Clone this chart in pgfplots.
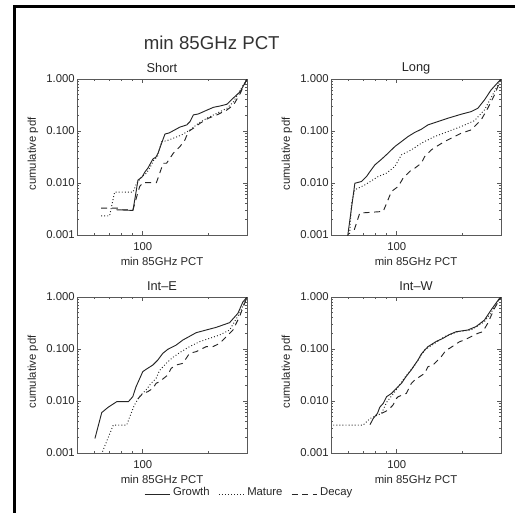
\documentclass[border=0pt]{standalone}
\usepackage{fontspec}
\setmainfont{Liberation Sans}
\usepackage{pgfplots}
\pgfplotsset{compat=1.18}

\tikzset{
  growth/.style={black!85, line width=0.7pt},
  mature/.style={black!85, line width=0.7pt, dash pattern=on 0.7pt off 1.6pt},
  decay/.style={black!85, line width=0.7pt, dash pattern=on 4.5pt off 3.5pt},
}
\pgfplotsset{
  cdfpanel/.style={
    scale only axis, width=127.5pt, height=117pt,
    xmin=50, xmax=300, ymin=0.001, ymax=1,
    xtick={100}, xticklabels={100},
    minor xtick={60,70,80,90,200},
    ytick={0.001,0.01,0.1,1},
    yticklabels={0.001,0.010,0.100,1.000},
    minor ytick={0.002,0.003,0.004,0.005,0.006,0.007,0.008,0.009,
                 0.02,0.03,0.04,0.05,0.06,0.07,0.08,0.09,
                 0.2,0.3,0.4,0.5,0.6,0.7,0.8,0.9},
    major tick length=3pt, minor tick length=1.5pt,
    axis line style={black!65, line width=0.75pt},
    tick style={black!65, line width=0.6pt},
    tick label style={font=\fontsize{8.5}{10}\selectfont, text=black!85},
    yticklabel style={inner sep=1.5pt},
    xticklabel style={yshift=-2pt},
    label style={font=\fontsize{8.5}{10}\selectfont, text=black!85},
    xlabel={min 85GHz PCT}, ylabel={cumulative pdf},
    xlabel style={at={(axis description cs:0.5,-0.17)}, anchor=center},
    ylabel style={at={(axis description cs:-0.259,0.52)}, anchor=center},
    every axis title shift=0pt,
    title style={at={(axis description cs:0.5,1.07)}, anchor=center,
                 font=\fontsize{9.6}{11}\selectfont, text=black!85},
  },
}

\begin{document}
\begin{tikzpicture}
\useasboundingbox (0pt,0pt) rectangle (386.25pt,-384pt);
\draw[line width=2.25pt, black] (10.7pt,-392pt) -- (10.7pt,-5pt) -- (392pt,-5pt);
\node[font=\fontsize{14}{16}\selectfont, text=black!80] at (158.8pt,-32.25pt) {min 85GHz PCT};

% Short
\begin{axis}[xmode=log, ymode=log, cdfpanel, anchor=north west,
  at={(57.75pt,-59.25pt)}, title={Short}]
\addplot[growth] coordinates {(75.7,0.00306) (90.2,0.00297) (95.1,0.0114) (99.2,0.013) (102.3,0.0163) (105.6,0.0194) (111.3,0.029) (115,0.0316) (117.5,0.0378) (122.5,0.0614) (126.4,0.0875) (131.9,0.0916) (148,0.119) (159,0.131) (164.6,0.152) (170.5,0.204) (179.8,0.213) (192.8,0.243) (210.8,0.286) (226,0.303) (242.7,0.327) (255.9,0.407) (279.4,0.571) (300,1)};
\addplot[mature] coordinates {(64.5,0.00234) (70.5,0.00234) (74.3,0.00668) (90.2,0.00668) (93.8,0.0099) (98.6,0.013) (104,0.0155) (108,0.02) (112,0.027) (117,0.033) (121.9,0.0627) (128.5,0.065) (138,0.0726) (150.7,0.0842) (164.6,0.105) (179.8,0.141) (196.3,0.176) (218.4,0.219) (242.7,0.273) (260.4,0.367) (279.4,0.615) (300,1)};
\addplot[decay] coordinates {(64.5,0.0033) (78.4,0.0033) (80,0.00306) (90.2,0.00306) (96.8,0.00858) (100.3,0.0102) (115.5,0.0102) (124,0.024) (128.5,0.024) (138,0.0374) (148,0.0502) (156,0.0675) (161.7,0.0975) (170.5,0.113) (183,0.141) (199.8,0.176) (218.4,0.204) (242.7,0.254) (260.4,0.317) (279.4,0.531) (300,1)};
\end{axis}

% Long
\begin{axis}[xmode=log, ymode=log, cdfpanel, anchor=north west,
  at={(248.25pt,-59.25pt)}, title={Long}]
\addplot[growth] coordinates {(59.5,0.0009) (64.3,0.0099) (69.0,0.0107) (72.7,0.0133) (75.4,0.0166) (79.4,0.0223) (85.2,0.0287) (91.2,0.0374) (98.0,0.0502) (105.1,0.0627) (112.6,0.0782) (120.9,0.094) (129.5,0.108) (138.9,0.131) (154.3,0.152) (171.4,0.176) (197.1,0.21) (219,0.236) (234.9,0.273) (251.9,0.395) (270.1,0.615) (300,1)};
\addplot[mature] coordinates {(60.6,0.0008) (62.1,0.0041) (64.3,0.0074) (71.5,0.0092) (82.2,0.0133) (89.8,0.0155) (98.0,0.0208) (105.1,0.0348) (116.7,0.0434) (129.5,0.0582) (149,0.0782) (171.4,0.0975) (197.1,0.122) (226.8,0.158) (251.9,0.254) (279.7,0.571) (300,1)};
\addplot[decay] coordinates {(63.9,0.00126) (67.7,0.00264) (86.7,0.00284) (91.2,0.00476) (94.6,0.00688) (101.5,0.00858) (106.9,0.0124) (116.7,0.0179) (120.9,0.0193) (129.5,0.024) (134.2,0.0323) (143.9,0.0434) (151.7,0.0502) (165.5,0.0627) (171.4,0.0675) (183.8,0.0782) (197.1,0.0906) (219,0.105) (226.8,0.122) (243.3,0.163) (260.8,0.273) (279.7,0.49) (300,1)};
\end{axis}

% Int-E
\begin{axis}[xmode=log, ymode=log, cdfpanel, anchor=north west,
  at={(57.75pt,-222.75pt)}, title={Int--E},
  legend columns=3,
  legend style={at={(axis description cs:1.015,-0.255)}, anchor=center,
    draw=none, fill=none, font=\fontsize{8.5}{10}\selectfont, text=black!85,
    /tikz/every even column/.append style={column sep=4.5pt}},
  legend image code/.code={\draw[#1] (0pt,-1.5pt) -- (19pt,-1.5pt);},
]
\addplot[growth] coordinates {(60.4,0.0019) (64.9,0.006) (69.5,0.0076) (76,0.0097) (85.9,0.0097) (90,0.0121) (93.2,0.0189) (100,0.0367) (103.5,0.0406) (111.2,0.0492) (117.2,0.0614) (123.5,0.0826) (130.2,0.0986) (142.2,0.119) (152.6,0.149) (160.8,0.168) (175.5,0.206) (195.1,0.232) (216.9,0.261) (249.6,0.321) (272.5,0.485) (287.1,0.8) (300,1)};
\addlegendentry{Growth}
\addplot[mature] coordinates {(65.4,0.00106) (73.3,0.00345) (84.4,0.00345) (88.4,0.00579) (91.6,0.00838) (96.5,0.0121) (103.5,0.0163) (109.2,0.0219) (115.1,0.0273) (119.2,0.0383) (128,0.053) (137.3,0.0691) (150,0.0889) (163.7,0.111) (181.8,0.138) (202.1,0.16) (224.7,0.186) (249.6,0.232) (277.3,0.485) (300,1)};
\addlegendentry{Mature}
\addplot[decay] coordinates {(95,0.011) (100,0.014) (105.4,0.0151) (111.2,0.0175) (115.1,0.0219) (119.2,0.0235) (130.2,0.0316) (134.9,0.0425) (142.2,0.0492) (152.6,0.053) (163.7,0.0826) (175.5,0.0889) (181.8,0.0957) (195.1,0.111) (209.4,0.111) (224.7,0.128) (249.6,0.2) (258.6,0.232) (277.3,0.419) (300,1)};
\addlegendentry{Decay}
\end{axis}

% Int-W
\begin{axis}[xmode=log, ymode=log, cdfpanel, anchor=north west,
  at={(248.25pt,-222.75pt)}, title={Int--W}]
\addplot[growth] coordinates {(75.4,0.0035) (78,0.0046) (81.6,0.0058) (83.6,0.0076) (86.7,0.009) (89.8,0.0121) (94.6,0.014) (99.6,0.0175) (105.1,0.0219) (110.6,0.03) (116.7,0.04) (120.9,0.05) (125.1,0.0614) (129.5,0.08) (134.2,0.095) (138.9,0.111) (151.7,0.14) (162.6,0.16) (174.4,0.19) (187,0.215) (211.4,0.232) (230.6,0.27) (251.9,0.36) (270.1,0.562) (295.1,0.942) (300,1)};
\addplot[mature] coordinates {(45,0.00345) (70.2,0.00345) (75.4,0.0046) (85.2,0.0058) (89.8,0.0094) (98,0.0151) (108.8,0.0283) (120.9,0.049) (134.2,0.0957) (149,0.128) (165.5,0.173) (190.4,0.215) (219,0.232) (251.9,0.336) (270.1,0.5) (300,1)};
\addplot[decay] coordinates {(85.2,0.0058) (88.2,0.0062) (91.2,0.0067) (92.9,0.0072) (96.2,0.0084) (99.6,0.0112) (101.5,0.0121) (110.6,0.014) (116.7,0.0219) (120.9,0.0253) (127.3,0.0294) (134.2,0.034) (138.9,0.0457) (146.4,0.0492) (154.3,0.0614) (159.8,0.0713) (168.4,0.0957) (174.4,0.103) (183.8,0.119) (193.8,0.138) (204.1,0.149) (219,0.173) (234.9,0.2) (247.6,0.215) (260.8,0.312) (279.7,0.6) (300,1)};
\end{axis}
\end{tikzpicture}
\end{document}
